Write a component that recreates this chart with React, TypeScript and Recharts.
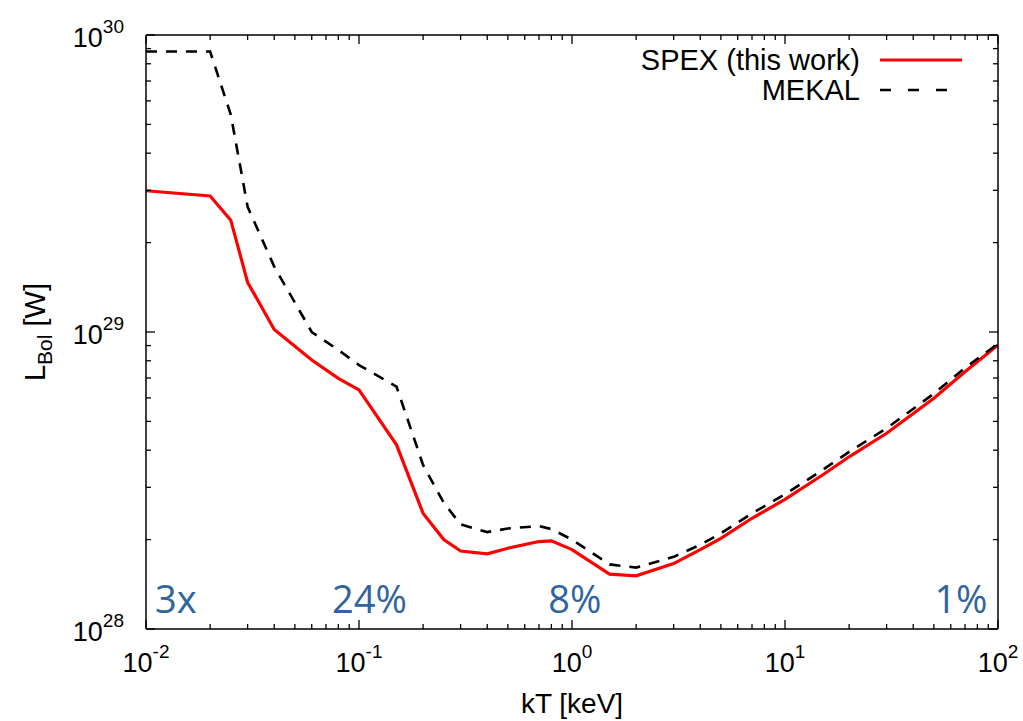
import React from 'react';
import { LineChart, Line, XAxis, YAxis, ReferenceDot } from 'recharts';

// kT grid [keV]
const KT = [0.01, 0.02, 0.025, 0.03, 0.04, 0.06, 0.08, 0.1, 0.15, 0.2, 0.25, 0.3, 0.4, 0.5, 0.7, 0.8, 1.0, 1.5, 2, 3, 4, 5, 7, 10, 15, 20, 30, 50, 70, 100];
// bolometric luminosity, in units of 1e28 W
const SPEX = [29.9, 28.7, 23.8, 14.7, 10.2, 8.05, 6.98, 6.38, 4.17, 2.45, 2.0, 1.83, 1.79, 1.87, 1.97, 1.98, 1.85, 1.53, 1.51, 1.66, 1.85, 2.02, 2.36, 2.73, 3.3, 3.8, 4.56, 5.98, 7.35, 9.04];
const MEKAL = [88, 88, 54, 26.4, 16.6, 10.0, 8.7, 7.74, 6.55, 3.56, 2.66, 2.25, 2.12, 2.18, 2.22, 2.17, 2.0, 1.65, 1.61, 1.75, 1.92, 2.1, 2.45, 2.84, 3.43, 3.95, 4.74, 6.2, 7.57, 9.13];
const UNIT = 1e28;

const X_TICKS = [0.01, 0.02, 0.03, 0.04, 0.05, 0.06, 0.07, 0.08, 0.09, 0.1, 0.2, 0.3, 0.4, 0.5, 0.6, 0.7, 0.8, 0.9, 1, 2, 3, 4, 5, 6, 7, 8, 9, 10, 20, 30, 40, 50, 60, 70, 80, 90, 100];
const Y_TICKS = [1, 2, 3, 4, 5, 6, 7, 8, 9, 10, 20, 30, 40, 50, 60, 70, 80, 90, 100].map((v) => v * UNIT);

// accuracy notes along the bottom
const NOTE_TEXT = ['3x', '24%', '8%', '1%'];
const NOTE_KT = [0.0138, 0.112, 1.03, 67];
const NOTE_L = 1.13e28;

const data = KT.map((kt, i) => ({ kt, spex: SPEX[i] * UNIT, mekal: MEKAL[i] * UNIT }));

const FONT = '"Liberation Sans", Arial, Helvetica, sans-serif';

const isMajor = (v: number) => Math.abs(Math.log10(v) - Math.round(Math.log10(v))) < 1e-6;

// inward tick marks (gnuplot style), labels only on bottom/left majors
const AxisTick = (props: any) => {
    const { x, y, payload, side } = props;
    const v = payload.value;
    const major = isMajor(v);
    const len = major ? 9 : 5;
    const exp = Math.round(Math.log10(v));
    let x2 = x;
    let y2 = y;
    if (side === 'bottom') y2 = y - len;
    else if (side === 'top') y2 = y + len;
    else if (side === 'left') x2 = x + len;
    else x2 = x - len;

    return (
        <g>
            <path d={`M${x},${y}L${x2},${y2}`} stroke="#000" strokeWidth={1.3} fill="none" />
            {major && side === 'bottom' && (
                <text x={x} y={y + 43} textAnchor="middle" fontFamily={FONT} fill="#000">
                    <tspan fontSize={27}>10</tspan>
                    <tspan dy={-14} fontSize={19}>{exp}</tspan>
                </text>
            )}
            {major && side === 'left' && (
                <text x={x - 22} y={y + 12} textAnchor="end" fontFamily={FONT} fill="#000">
                    <tspan fontSize={27}>10</tspan>
                    <tspan dy={-14} fontSize={19}>{exp}</tspan>
                </text>
            )}
        </g>
    );
};

const XTitle = ({ viewBox }: any) => (
    <text x={viewBox.x + viewBox.width / 2} y={viewBox.y + 84} textAnchor="middle" fontFamily={FONT} fontSize={28} fill="#000">
        kT [keV]
    </text>
);

const YTitle = ({ viewBox }: any) => {
    const cx = viewBox.x + 45;
    const cy = viewBox.y + viewBox.height / 2;
    return (
        <text x={cx} y={cy} transform={`rotate(-90, ${cx}, ${cy})`} textAnchor="middle" fontFamily={FONT} fontSize={29} fill="#000">
            <tspan>L</tspan>
            <tspan dy={7} fontSize={21}>Bol</tspan>
            <tspan dy={-7}> [W]</tspan>
        </text>
    );
};

const NoteLabel = ({ viewBox, text }: any) => {
    const cx = viewBox.x + viewBox.width / 2;
    const cy = viewBox.y + viewBox.height / 2;
    return (
        <text x={cx} y={cy} textAnchor="middle" fontFamily='"Open Sans", "Noto Sans", sans-serif' fontSize={38} fill="#2f64a0">
            {text}
        </text>
    );
};

// key box, drawn over the top right corner of the plot
const Key = () => (
    <svg width={420} height={75} style={{ position: 'absolute', left: 560, top: 35 }}>
        <text x={300} y={35} textAnchor="end" fontFamily={FONT} fontSize={29} fill="#000">SPEX (this work)</text>
        <line x1={320} y1={25} x2={402} y2={25} stroke="#ff0000" strokeWidth={3.2} />
        <text x={300} y={65} textAnchor="end" fontFamily={FONT} fontSize={29} fill="#000">MEKAL</text>
        <line x1={320} y1={55} x2={402} y2={55} stroke="#000" strokeWidth={2.6} strokeDasharray="11 17" />
    </svg>
);

const axisLine = { stroke: '#000', strokeWidth: 1.5 };

export default function App() {
    return (
        <div style={{ position: 'absolute', left: 0, top: 0, width: 1023, height: 721, background: '#fff' }}>
            <LineChart width={1023} height={721} data={data} margin={{ top: 34, right: 24, bottom: 0, left: 0 }}>
                <XAxis
                    dataKey="kt"
                    type="number"
                    scale="log"
                    domain={[0.01, 100]}
                    allowDataOverflow
                    ticks={X_TICKS}
                    interval={0}
                    height={92}
                    tickLine={false}
                    tickSize={0}
                    tickMargin={0}
                    axisLine={axisLine}
                    tick={<AxisTick side="bottom" />}
                    label={<XTitle />}
                />
                <XAxis
                    xAxisId="top"
                    orientation="top"
                    dataKey="kt"
                    type="number"
                    scale="log"
                    domain={[0.01, 100]}
                    allowDataOverflow
                    ticks={X_TICKS}
                    interval={0}
                    height={1}
                    tickLine={false}
                    tickSize={0}
                    tickMargin={0}
                    axisLine={axisLine}
                    tick={<AxisTick side="top" />}
                />
                <YAxis
                    type="number"
                    scale="log"
                    domain={[1e28, 1e30]}
                    allowDataOverflow
                    ticks={Y_TICKS}
                    interval={0}
                    width={146}
                    tickLine={false}
                    tickSize={0}
                    tickMargin={0}
                    axisLine={axisLine}
                    tick={<AxisTick side="left" />}
                    label={<YTitle />}
                />
                <YAxis
                    yAxisId="right"
                    orientation="right"
                    type="number"
                    scale="log"
                    domain={[1e28, 1e30]}
                    allowDataOverflow
                    ticks={Y_TICKS}
                    interval={0}
                    width={1}
                    tickLine={false}
                    tickSize={0}
                    tickMargin={0}
                    axisLine={axisLine}
                    tick={<AxisTick side="right" />}
                />
                <Line dataKey="spex" name="SPEX (this work)" type="linear" stroke="#ff0000" strokeWidth={3.2} dot={false} isAnimationActive={false} />
                <Line dataKey="mekal" name="MEKAL" type="linear" stroke="#000" strokeWidth={2.6} strokeDasharray="11 9" dot={false} isAnimationActive={false} />
                {NOTE_TEXT.map((t, i) => (
                    <ReferenceDot key={t} x={NOTE_KT[i]} y={NOTE_L} r={1} fill="none" stroke="none" label={<NoteLabel text={t} />} />
                ))}
            </LineChart>
            <Key />
        </div>
    );
}
